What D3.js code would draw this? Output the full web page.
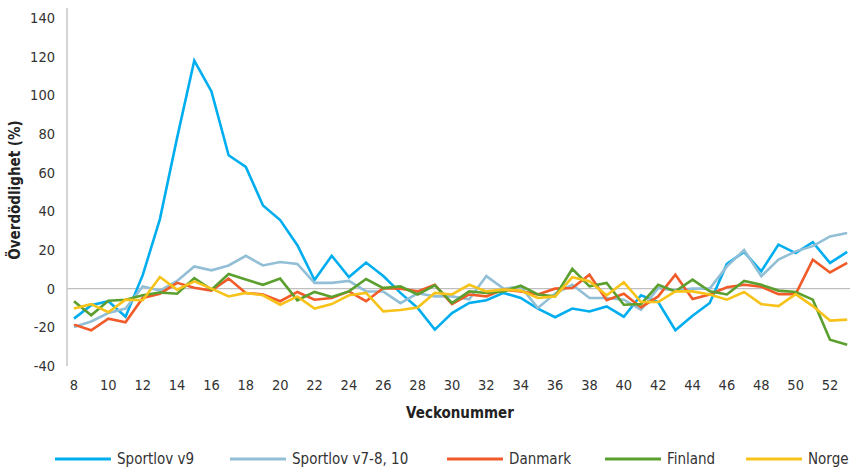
<!DOCTYPE html>
<html><head><meta charset="utf-8">
<script src="https://cdn.jsdelivr.net/npm/d3@7"></script>
<style>
body{margin:0;background:#fff;}
svg{font-family:"DejaVu Sans Condensed","Liberation Sans Narrow","Roboto",sans-serif;}
</style></head>
<body><svg id="c" width="850" height="470"></svg>
<script>
const weeks = d3.range(8, 54);
const xTicks = d3.range(8, 53, 2);
const yTicks = [-40,-20,0,20,40,60,80,100,120,140];
const seriesNames = ["Sportlov v9","Sportlov v7-8, 10","Danmark","Finland","Norge"];
const seriesColors = ["#00aeef","#92bfd6","#f15a29","#5b9f2f","#f7c31a"];
const sportlovV9 = [-15.5,-8.6,-6.5,-14.5,7,36,78,118,102,69,63,43,35.5,22.5,4.5,17,6,13.5,6.5,-2.2,-10,-21.2,-12.6,-7.4,-6,-2.2,-4.8,-10.3,-14.8,-10.3,-11.8,-9.2,-14.5,-3.4,-6.9,-21.5,-14,-7.4,12.8,19,9,22.8,18.4,24,13.3,19];
const sportlov7810 = [-19.8,-17,-12.6,-10.3,1.2,-1,4,11.5,9.5,12,17,12,13.8,12.8,3,3,4,-1.4,-1.5,-7.5,-2.4,-4,-4,-5.5,6.5,0,1,-10,-2.5,2,-4.8,-4.8,-5.7,-10.9,0.3,-1,0,0,11.5,20,6.4,15,19.3,22,27,28.8];
const danmark = [-18.6,-21.5,-15.5,-17.4,-4.8,-2.6,3,0.5,-1,5.2,-2.2,-3,-6.5,-1.7,-5.7,-4.8,-1.4,-6.5,0.3,0,-1.4,2,-8,-3,-4,-0.5,-1.4,-3,0,0.3,7.2,-6,-2.6,-9.7,-4,7.2,-5.3,-3,0.7,2,1,-2.8,-2.8,15,8.4,13.3];
const finland = [-6.5,-13.8,-6.2,-5.7,-3.4,-2,-2.6,5.5,-0.5,7.6,4.7,2,5.2,-6,-1.7,-4.3,-1.4,5,0.3,1.2,-3,1.7,-7.4,-1.4,-2.2,-1.4,1.5,-3,-4,10.2,1.2,3,-8.3,-8,2,-1.4,4.7,-1.4,-3,4,2,-1,-1.7,-5.7,-26.4,-29];
const norge = [-10.3,-8,-12.2,-5.7,-6,6,-0.5,3.8,0,-4,-2.2,-3.4,-8.3,-4,-10.3,-8,-3.4,-2.2,-11.7,-11,-9.7,-2.2,-3,2,-1.4,-0.5,-1,-4.8,-4,5.9,3.8,-3.4,3.3,-6.9,-6.9,-1.4,-1.4,-3,-5.7,-1.7,-8,-9,-2.8,-9,-16.5,-16];
const allSeries = [sportlovV9, sportlov7810, danmark, finland, norge];

const svg = d3.select("#c");
const x = d3.scaleLinear().domain([8, 52]).range([74, 830]);
const y = d3.scaleLinear().domain([-40, 140]).range([366, 18]);

svg.append("line").attr("x1",67).attr("x2",67).attr("y1",8).attr("y2",366)
  .attr("stroke","#bfbfbf").attr("stroke-width",1.3);
svg.append("line").attr("x1",67).attr("x2",850).attr("y1",y(0)).attr("y2",y(0))
  .attr("stroke","#bfbfbf").attr("stroke-width",1.3);

svg.append("g").selectAll("text").data(yTicks).join("text")
  .attr("x",55).attr("y",d=>y(d)).attr("dy","0.35em").attr("text-anchor","end")
  .attr("font-size",14.5).attr("fill","#333").text(d=>d);

svg.append("g").selectAll("text").data(xTicks).join("text")
  .attr("x",d=>x(d)).attr("y",385).attr("dy","0.35em").attr("text-anchor","middle")
  .attr("font-size",14.5).attr("fill","#333").text(d=>d);

svg.append("text").attr("x",460).attr("y",413).attr("dy","0.35em").attr("text-anchor","middle")
  .attr("font-size",15).attr("font-weight","bold").attr("fill","#222").text("Veckonummer");
svg.append("text").attr("transform","translate(15,190) rotate(-90)").attr("dy","0.35em")
  .attr("text-anchor","middle").attr("font-size",15).attr("font-weight","bold").attr("fill","#222")
  .text("Överdödlighet (%)");

const line = d3.line().x((d,i)=>x(weeks[i])).y(d=>y(d));
allSeries.forEach((s,k)=>{
  svg.append("path").datum(s).attr("d",line).attr("fill","none")
    .attr("stroke",seriesColors[k]).attr("stroke-width",2.6).attr("stroke-linejoin","miter");
});

const legX = [55,230,447,605,746];
const lg = svg.append("g");
seriesNames.forEach((n,k)=>{
  lg.append("line").attr("x1",legX[k]).attr("x2",legX[k]+56).attr("y1",459).attr("y2",459)
    .attr("stroke",seriesColors[k]).attr("stroke-width",2.8);
  lg.append("text").attr("x",legX[k]+62).attr("y",459).attr("dy","0.35em")
    .attr("font-size",15).attr("fill","#333").text(n);
});
</script></body></html>
